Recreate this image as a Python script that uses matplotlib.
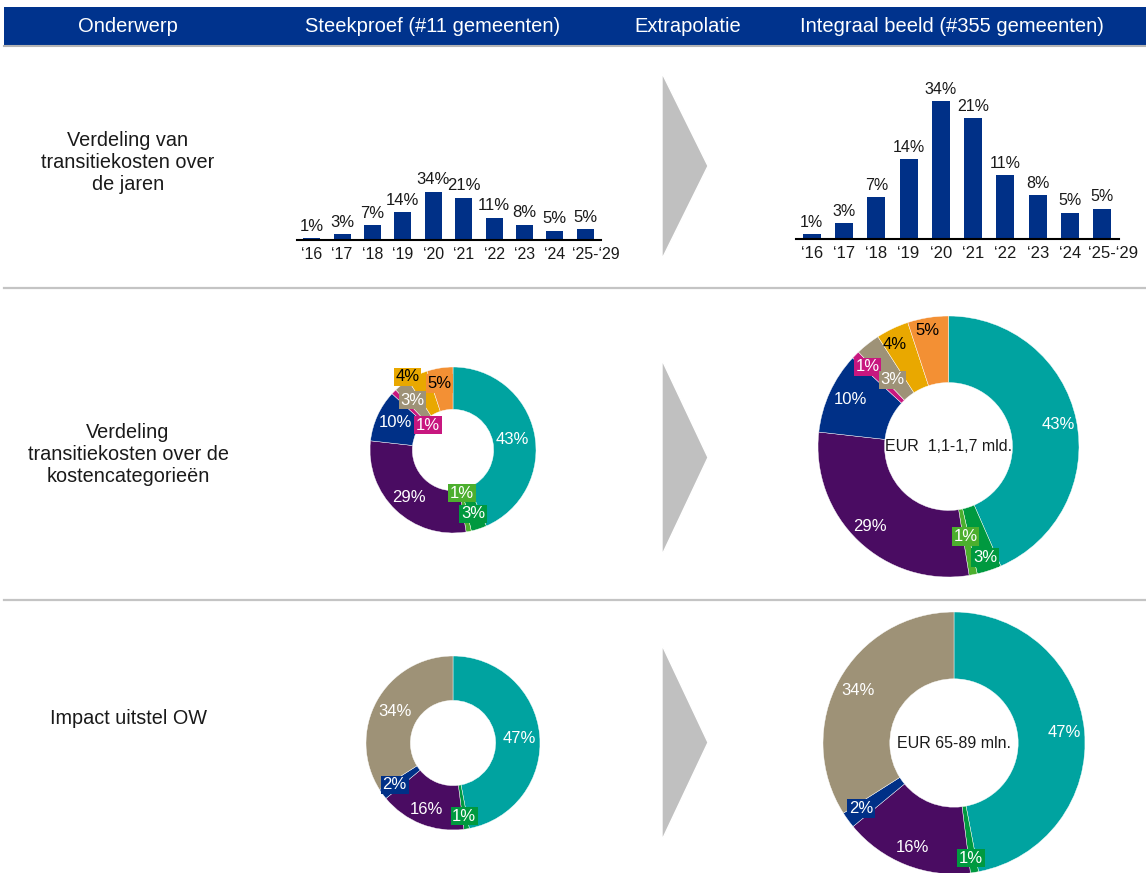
import matplotlib
matplotlib.use('Agg')
import matplotlib.pyplot as plt
import matplotlib.transforms as mtransforms
from matplotlib.patches import Rectangle, Polygon

plt.rcParams['font.family'] = ['Liberation Sans', 'DejaVu Sans']

W, H = 1146, 873

# ---- data ----
columns = ['Onderwerp', 'Steekproef (#11 gemeenten)', 'Extrapolatie',
           'Integraal beeld (#355 gemeenten)']
row_titles = ['Verdeling van\ntransitiekosten over\nde jaren',
              'Verdeling\ntransitiekosten over de\nkostencategorieën',
              'Impact uitstel OW']

years = ['‘16', '‘17', '‘18', '‘19', '‘20', '‘21', '‘22', '‘23', '‘24', '‘25-‘29']
# bar heights as drawn in the source (the '20 label says 34%)
year_share = [0.9, 2.8, 7.4, 14.1, 24.2, 21.2, 11.2, 7.7, 4.7, 5.4]
year_labels = ['1%', '3%', '7%', '14%', '34%', '21%', '11%', '8%', '5%', '5%']

TEAL, DGREEN, LGREEN = '#00A3A0', '#00993F', '#4CAF2E'
PURPLE, BLUE, MAGENTA = '#4A0C62', '#003087', '#C8177F'
TAUPE, YELLOW, ORANGE = '#9E9277', '#E9A800', '#F39034'

cost_share = [43, 3, 1, 29, 10, 1, 3, 4, 5]
cost_labels = ['43%', '3%', '1%', '29%', '10%', '1%', '3%', '4%', '5%']
cost_colors = [TEAL, DGREEN, LGREEN, PURPLE, BLUE, MAGENTA, TAUPE, YELLOW, ORANGE]
cost_text = ['white'] * 7 + ['black', 'black']

delay_share = [47, 1, 16, 2, 34]
delay_labels = ['47%', '1%', '16%', '2%', '34%']
delay_colors = [TEAL, DGREEN, PURPLE, BLUE, TAUPE]
delay_text = ['white'] * 5

TXT = '#1a1a1a'

fig = plt.figure(figsize=(W / 100, H / 100), dpi=100)

bg = fig.add_axes([0, 0, 1, 1])
bg.set_xlim(0, W)
bg.set_ylim(H, 0)
bg.axis('off')


def px_axes(x0, y0, x1, y1):
    return fig.add_axes([x0 / W, 1 - y1 / H, (x1 - x0) / W, (y1 - y0) / H])


# header
bg.add_patch(Rectangle((4, 7), W - 4, 38, fc='#00338D', ec='none'))
bg.plot([4, W], [46, 46], color='#b4b4b4', lw=1.5)
for x, t in zip([128, 433, 688, 952], columns):
    bg.text(x, 26, t, color='white', fontsize=14.5, ha='center', va='center')

# row separators
for y in [288, 600]:
    bg.plot([4, W], [y, y], color='#c4c4c4', lw=1.6)

# row titles
for y, t in zip([163, 455, 718], row_titles):
    bg.text(128, y, t, fontsize=14.3, ha='center', va='center', linespacing=1.2,
            color=TXT)

# arrows
for top, bot in [(73, 259), (360, 555), (645, 840)]:
    bg.add_patch(Polygon([(662, top), (708, (top + bot) / 2), (662, bot)],
                         closed=True, fc='#c0c0c0', ec='white', lw=1))


def bar_panel(x0, x1, base, px_unit, lab_fs, tick_fs, shift):
    ax = px_axes(x0, base - 30 * px_unit, x1, base)
    ax.bar(range(len(years)), year_share, width=0.56, color=BLUE)
    ax.set_xlim(-0.5, len(years) - 0.5)
    ax.set_ylim(0, 30)
    for i, (v, l) in enumerate(zip(year_share, year_labels)):
        ax.annotate(l, (i, v), xytext=(0, 3), textcoords='offset points',
                    ha='center', va='bottom', fontsize=lab_fs, color=TXT)
    for s in ['top', 'left', 'right']:
        ax.spines[s].set_visible(False)
    ax.spines['bottom'].set_linewidth(1.5)
    ax.set_yticks([])
    ax.set_xticks(range(len(years)))
    ax.set_xticklabels(years)
    ax.tick_params(length=0, pad=5, labelsize=tick_fs, labelcolor=TXT)
    # last label sits a bit to the right so it clears its neighbour
    last = ax.get_xticklabels()[-1]
    last.set_transform(last.get_transform() + mtransforms.ScaledTranslation(
        shift / 100, 0, fig.dpi_scale_trans))
    ax.patch.set_alpha(0)
    return ax


bar_panel(296.5, 600.5, 240, 2.0, 12, 11.5, 11)
bar_panel(795.5, 1118.5, 239.3, 5.7, 11.5, 12, 11)


def donut(cx, cy, r, values, colors, labels, tcolors, pos, boxed,
          center=None, hole=0.49):
    ax = px_axes(cx - r, cy - r, cx + r, cy + r)
    ax.pie(values, colors=colors, startangle=90, counterclock=False, radius=1,
           wedgeprops=dict(width=1 - hole, edgecolor='white', linewidth=0.3))
    ax.set_xlim(-1, 1)
    ax.set_ylim(-1, 1)
    ax.axis('off')
    for lab, col, tc, (x, y), b in zip(labels, colors, tcolors, pos, boxed):
        bbox = dict(boxstyle='square,pad=0.1', fc=col, ec='none') if b else None
        ax.text(x, y, lab, ha='center', va='center', color=tc, fontsize=12,
                bbox=bbox)
    if center:
        ax.text(0, 0, center, ha='center', va='center', fontsize=11.5,
                color=TXT)
    return ax


# row 2: cost categories
donut(453, 450, 83, cost_share, cost_colors, cost_labels, cost_text,
      [(0.72, 0.13), (0.24, -0.77), (0.11, -0.52), (-0.53, -0.57),
       (-0.69, 0.33), (-0.30, 0.30), (-0.49, 0.60), (-0.55, 0.88),
       (-0.16, 0.80)],
      [False, True, True, False, False, True, True, True, True])
donut(948.5, 446.5, 130.5, cost_share, cost_colors, cost_labels, cost_text,
      [(0.84, 0.17), (0.28, -0.85), (0.13, -0.69), (-0.60, -0.61),
       (-0.75, 0.36), (-0.62, 0.61), (-0.43, 0.51), (-0.41, 0.78),
       (-0.16, 0.89)],
      [False, True, True, False, False, True, True, False, False],
      center='EUR  1,1-1,7 mld.')

# row 3: impact uitstel OW
donut(453, 743, 87, delay_share, delay_colors, delay_labels, delay_text,
      [(0.76, 0.05), (0.13, -0.84), (-0.30, -0.76), (-0.67, -0.48),
       (-0.67, 0.36)],
      [False, True, False, True, False])
donut(954, 743, 131, delay_share, delay_colors, delay_labels, delay_text,
      [(0.84, 0.08), (0.13, -0.88), (-0.32, -0.80), (-0.71, -0.50),
       (-0.73, 0.40)],
      [False, True, False, True, False],
      center='EUR 65-89 mln.')

fig.savefig('out.png', dpi=100)
